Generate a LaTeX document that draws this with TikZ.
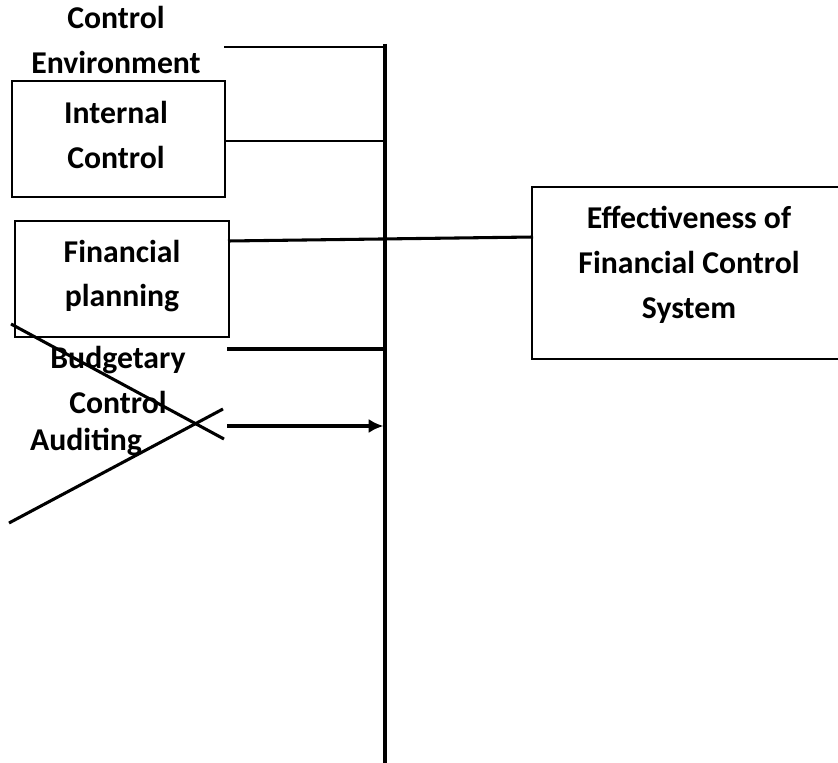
\documentclass[tikz,border=0pt]{standalone}
\usepackage{fontspec}
\setmainfont{Carlito}
\usetikzlibrary{arrows.meta}

\tikzset{
  lbl/.style={font=\bfseries\fontsize{23.8}{33.6}\selectfont, align=center, inner sep=0pt},
  box/.style={draw, line width=1.4pt, inner sep=0pt},
  link/.style={line width=1.3pt},
  heavy/.style={line width=2.3pt},
}

\begin{document}
\begin{tikzpicture}[x=0.75pt,y=-0.75pt]
\useasboundingbox (0,0) rectangle (838,763);

% bus
\coordinate (bustop) at (385,44);
\coordinate (busbot) at (385,763);
\draw [line width=3pt] (bustop) -- (busbot);

% boxes
\node (intctl) at (118.5,139) [box, minimum width=213*0.75pt, minimum height=116*0.75pt] {};
\node (finplan) at (122,279) [box, line width=1.2pt, minimum width=214*0.75pt, minimum height=116*0.75pt] {};
\node (effbox) at (687,273) [box, minimum width=310*0.75pt, minimum height=172*0.75pt] {};

% texts
\node (envtxt) at (116,40) [lbl] {Control\\Environment};
\node (inttxt) at (116,135) [lbl] {Internal\\Control};
\node (fintxt) at (122,276) [lbl] {Financial\\planning};
\node (efftxt) at (689,265) [lbl] {Effectiveness of\\Financial Control\\System};
\node (budtxt) at (118,380) [lbl] {Budgetary\\Control};
\node (audtxt) at (86,442) [lbl] {Auditing};

% connectors
\coordinate (envout) at (224,47);
\coordinate (finout) at (228,241);
\coordinate (effin) at (533,237);
\coordinate (budout) at (227,349);
\coordinate (audout) at (227,426);

\draw [link] (envout) -- (envout -| bustop);
\draw [link] (intctl.east |- 0,141) -- (bustop |- 0,141);
\draw [heavy] (finout) -- (effin);
\draw [heavy] (budout) -- (budout -| bustop);
\draw [-{Latex[length=11pt,width=10.5pt]}, line width=2.6pt] (audout) -- ([xshift=-1.2pt]audout -| bustop);

% cross
\coordinate (crossa) at (11,324);
\coordinate (crossb) at (224,439);
\coordinate (crossc) at (9,523);
\coordinate (crossd) at (223,409);
\draw [heavy] (crossa) -- (crossb);
\draw [heavy] (crossc) -- (crossd);

\end{tikzpicture}
\end{document}
